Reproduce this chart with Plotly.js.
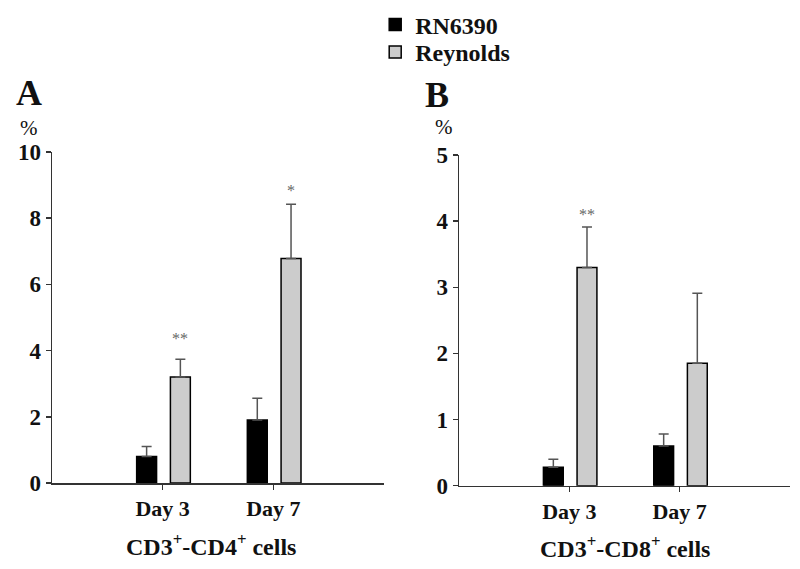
<!DOCTYPE html>
<html>
<head>
<meta charset="utf-8">
<script src="https://cdn.plot.ly/plotly-3.0.1.min.js"></script>
<style>html,body{margin:0;padding:0;background:#fff}#chart{width:800px;height:569px}</style>
</head>
<body>
<div id="chart"></div>
<script>
// ---- data ----
const categories = ['Day 3', 'Day 7'];
const seriesNames = ['RN6390', 'Reynolds'];

// Panel A: CD3+-CD4+ cells (%)
const cd4_RN6390 = [0.8, 1.9];
const cd4_RN6390_err = [0.3, 0.66];
const cd4_Reynolds = [3.2, 6.78];
const cd4_Reynolds_err = [0.54, 1.64];
const cd4_starText = ['**', '*'];
const cd4_starY = [4.38, 8.85];

// Panel B: CD3+-CD8+ cells (%)
const cd8_RN6390 = [0.28, 0.6];
const cd8_RN6390_err = [0.12, 0.18];
const cd8_Reynolds = [3.3, 1.85];
const cd8_Reynolds_err = [0.61, 1.06];
const cd8_starText = ['**', ''];
const cd8_starY = [4.1, null];

const yTicksA = [0, 2, 4, 6, 8, 10];
const yTicksB = [0, 1, 2, 3, 4, 5];

// ---- styles ----
const FONT = 'Liberation Serif, Times New Roman, serif';
const AXC = '#333333';
const ERRC = '#555555';
const colors = ['#000000', '#cccccc'];
const legendIds = ['legend', 'legend2'];
const barWidth = 0.18;
const offsets = [-0.235, 0.07];

function barTrace(name, idx, y, err, xa, ya, showLegend) {
  return {
    type: 'bar', name: name, showlegend: showLegend, legend: legendIds[idx],
    x: categories, y: y, xaxis: xa, yaxis: ya,
    width: barWidth, offset: offsets[idx],
    marker: {color: colors[idx], line: {color: '#000', width: 1.5}},
    error_y: {type: 'data', symmetric: false, array: err, arrayminus: err.map(() => 0),
              color: ERRC, thickness: 1.5, width: 5},
    hoverinfo: 'x+y'
  };
}

const data = [
  barTrace(seriesNames[0], 0, cd4_RN6390, cd4_RN6390_err, 'x', 'y', true),
  barTrace(seriesNames[1], 1, cd4_Reynolds, cd4_Reynolds_err, 'x', 'y', true),
  barTrace(seriesNames[0], 0, cd8_RN6390, cd8_RN6390_err, 'x2', 'y2', false),
  barTrace(seriesNames[1], 1, cd8_Reynolds, cd8_Reynolds_err, 'x2', 'y2', false)
];

function xAxis(domain, anchor) {
  return {
    domain: domain, anchor: anchor, type: 'category', range: [-1, 2],
    showline: true, linecolor: AXC, linewidth: 1.5,
    ticks: 'outside', ticklen: 5, tickcolor: AXC, tickwidth: 1.5,
    showgrid: false, zeroline: false, fixedrange: true,
    tickfont: {family: FONT, size: 22, color: '#111', weight: 'bold'}
  };
}
function yAxis(domain, anchor, range, ticks) {
  return {
    domain: domain, anchor: anchor, range: range,
    tickmode: 'array', tickvals: ticks, ticktext: ticks.map(String),
    showline: true, linecolor: AXC, linewidth: 1.5,
    ticks: 'outside', ticklen: 5, tickcolor: AXC, tickwidth: 1.5,
    showgrid: false, zeroline: false, fixedrange: true,
    tickfont: {family: FONT, size: 23, color: '#111', weight: 'bold'}
  };
}

const barCenterOffset = offsets[1] + barWidth / 2;
const annotations = [];
cd4_starText.forEach((t, i) => {
  if (t) annotations.push({xref: 'x', yref: 'y', x: i + barCenterOffset, y: cd4_starY[i], text: t,
    showarrow: false, yanchor: 'middle', font: {family: FONT, size: 16, color: '#666666'}});
});
cd8_starText.forEach((t, i) => {
  if (t) annotations.push({xref: 'x2', yref: 'y2', x: i + barCenterOffset, y: cd8_starY[i], text: t,
    showarrow: false, yanchor: 'middle', font: {family: FONT, size: 16, color: '#666666'}});
});
const lab = (text, x, y, size, weight) => ({xref: 'paper', yref: 'paper', x: x, y: y, text: text,
  showarrow: false, xanchor: 'center', yanchor: 'middle',
  font: {family: FONT, size: size, color: '#111', weight: weight}});
annotations.push(lab('A', 0.03625, 0.8366, 36, 'bold'));
annotations.push(lab('%', 0.03625, 0.7759, 21, 'normal'));
annotations.push(lab('B', 0.546, 0.833, 36, 'bold'));
annotations.push(lab('%', 0.555, 0.7768, 21, 'normal'));
annotations.push(lab('CD3<sup>+</sup>-CD4<sup>+</sup> cells', 0.2638, 0.0422, 24, 'bold'));
annotations.push(lab('CD3<sup>+</sup>-CD8<sup>+</sup> cells', 0.781, 0.0392, 24, 'bold'));

const legendStyle = (y) => ({x: 0.469, y: y, xanchor: 'left', yanchor: 'top', bgcolor: 'rgba(0,0,0,0)',
  font: {family: FONT, size: 24, color: '#111', weight: 'bold'}});

const layout = {
  width: 800, height: 569,
  margin: {l: 0, r: 0, t: 0, b: 0, pad: 0},
  paper_bgcolor: '#fff', plot_bgcolor: '#fff',
  showlegend: true,
  legend: legendStyle(0.996),
  legend2: legendStyle(0.9473),
  xaxis: xAxis([0.065, 0.48], 'y'),
  yaxis: yAxis([0.15114, 0.73286], 'x', [0, 10], yTicksA),
  xaxis2: xAxis([0.57375, 0.9875], 'y2'),
  yaxis2: yAxis([0.1464, 0.72759], 'x2', [0, 5], yTicksB),
  annotations: annotations,
  bargap: 0
};

Plotly.newPlot('chart', data, layout, {displayModeBar: false, staticPlot: true});
</script>
</body>
</html>
